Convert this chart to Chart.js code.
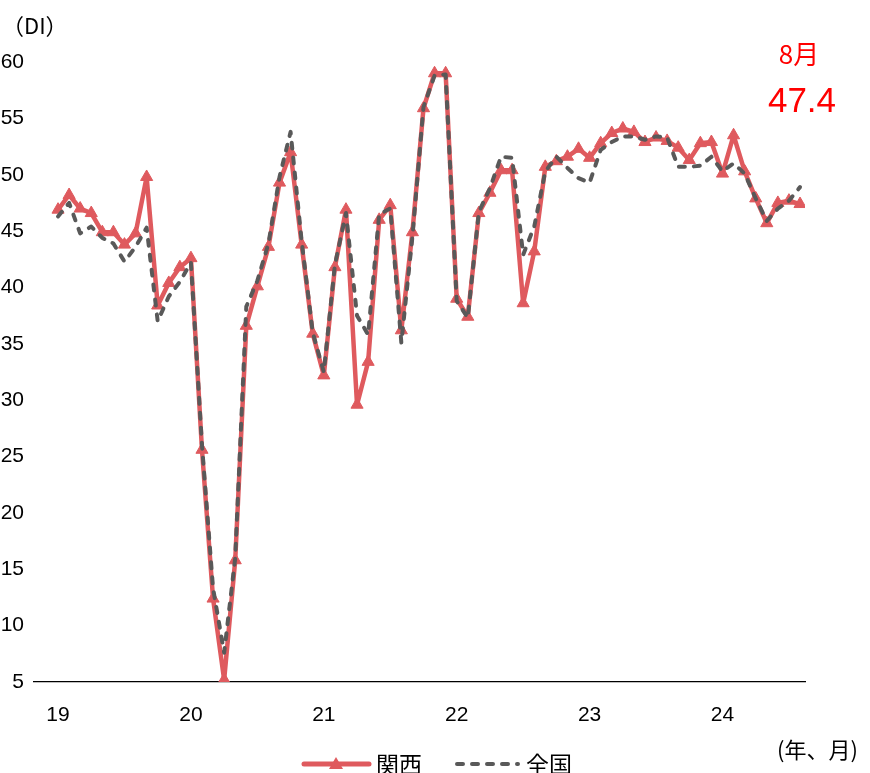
<!DOCTYPE html>
<html>
<head>
<meta charset="utf-8">
<script src="https://cdn.jsdelivr.net/npm/chart.js@4"></script>
<style>
  html, body { margin: 0; padding: 0; background: #fff; }
  #chart { display: block; }
</style>
</head>
<body>
<canvas id="chart" width="870" height="773"></canvas>
<script>
// monthly DI, Jan 2019 .. Aug 2024
const kansai = [
    46.9, 48.2, 47.0, 46.6, 44.9, 44.9, 43.8, 44.8, 49.8, 38.4, 40.4, 41.8,
    42.6, 25.6, 12.4, 5.2, 15.8, 36.6, 40.1, 43.6, 49.3, 52.0, 43.8, 35.9,
    32.2, 41.8, 46.9, 29.6, 33.4, 46.0, 47.3, 36.2, 44.9, 55.9, 59.0, 59.0,
    39.0, 37.4, 46.6, 48.4, 50.4, 50.4, 38.6, 43.2, 50.7, 51.2, 51.6, 52.3,
    51.5, 52.8, 53.7, 54.1, 53.8, 52.9, 53.3, 53.0, 52.4, 51.3, 52.8, 52.9,
    50.1, 53.5, 50.3, 47.9, 45.7, 47.5, 47.7, 47.4
];
const zenkoku = [
    46.3, 47.5, 44.8, 45.4, 44.4, 43.9, 42.3, 43.6, 45.3, 37.0, 39.2, 40.5,
    42.2, 26.0, 13.3, 7.6, 16.0, 38.3, 40.6, 43.9, 49.8, 53.8, 44.1, 36.0,
    32.5, 42.0, 46.6, 37.5, 35.8, 46.5, 47.0, 35.1, 44.5, 56.0, 58.8, 58.9,
    38.8, 37.3, 46.7, 48.8, 51.6, 51.5, 42.9, 45.4, 50.3, 51.6, 50.6, 49.7,
    49.3, 52.2, 52.9, 53.4, 53.4, 53.1, 53.4, 53.3, 50.7, 50.7, 50.8, 51.6,
    50.3, 51.0, 50.1, 47.9, 45.9, 47.0, 47.7, 48.9
];
const yearLabels = ['19', '20', '21', '22', '23', '24'];
const seriesNames = ['関西', '全国'];
const latestMonth = '8月';
const latestValue = '47.4';

const RED = '#df5a5e';
const GRAY = '#595959';
const LATIN = "'Liberation Sans', Arial, 'Noto Sans CJK JP', sans-serif";
const CJK = "'Noto Sans CJK JP', 'Liberation Sans', sans-serif";

function toPoints(arr) {
    return arr.map((v, i) => ({ x: i, y: v }));
}

// extra text + legend drawn on top
const decorations = {
    id: 'decorations',
    afterDraw(chart) {
        const ctx = chart.ctx;
        ctx.save();
        ctx.textBaseline = 'middle';

        ctx.fillStyle = '#000';
        ctx.textAlign = 'left';
        ctx.font = '22px ' + CJK;
        ctx.fillText('（DI）', 2, 26);

        ctx.font = '22px ' + CJK;
        ctx.fillText('(年、月)', 777, 750);

        ctx.fillStyle = '#ff0000';
        ctx.textAlign = 'center';
        ctx.font = '26px ' + CJK;
        ctx.fillText(latestMonth, 799, 54);
        ctx.font = '35px ' + LATIN;
        ctx.fillText(latestValue, 802, 102);

        // legend
        const ly = 764;
        ctx.lineCap = 'round';
        ctx.strokeStyle = RED;
        ctx.lineWidth = 5;
        ctx.beginPath();
        ctx.moveTo(304, ly);
        ctx.lineTo(369, ly);
        ctx.stroke();
        ctx.fillStyle = RED;
        ctx.beginPath();
        ctx.moveTo(336, ly - 7);
        ctx.lineTo(343, ly + 5);
        ctx.lineTo(329, ly + 5);
        ctx.closePath();
        ctx.fill();

        ctx.strokeStyle = GRAY;
        ctx.lineWidth = 4;
        ctx.setLineDash([6, 9]);
        ctx.beginPath();
        ctx.moveTo(457, ly);
        ctx.lineTo(518, ly);
        ctx.stroke();
        ctx.setLineDash([]);

        ctx.fillStyle = '#000';
        ctx.textAlign = 'left';
        ctx.font = '23px ' + CJK;
        ctx.fillText(seriesNames[0], 376, ly);
        ctx.fillText(seriesNames[1], 526, ly);
        ctx.restore();
    }
};

const chart = new Chart(document.getElementById('chart'), {
    type: 'line',
    data: {
        datasets: [{
            label: seriesNames[0],
            data: toPoints(kansai),
            borderColor: RED,
            backgroundColor: RED,
            borderWidth: 4.5,
            borderJoinStyle: 'round',
            borderCapStyle: 'round',
            pointStyle: 'triangle',
            pointRadius: 7,
            pointBorderWidth: 1,
            pointBackgroundColor: RED,
            pointBorderColor: RED,
            tension: 0,
            order: 2
        },
        {
            label: seriesNames[1],
            data: toPoints(zenkoku),
            borderColor: GRAY,
            backgroundColor: GRAY,
            borderWidth: 4,
            borderDash: [6, 9],
            borderCapStyle: 'round',
            borderJoinStyle: 'round',
            pointRadius: 0,
            tension: 0,
            order: 1
        }]
    },
    options: {
        responsive: false,
        devicePixelRatio: 1,
        animation: false,
        layout: {
            padding: { left: 0, right: 65, top: 62, bottom: 31 }
        },
        scales: {
            x: {
                type: 'linear',
                min: -2.17,
                max: 67.45,
                afterBuildTicks: (scale) => {
                    scale.ticks = yearLabels.map((_, i) => ({ value: i * 12 }));
                },
                afterFit: (scale) => { scale.height = 60; },
                grid: { display: false, drawTicks: false },
                border: { display: true, color: '#000', width: 1.2 },
                ticks: {
                    padding: 21,
                    autoSkip: false,
                    maxRotation: 0,
                    color: '#000',
                    font: { size: 21, family: LATIN },
                    callback: (v) => yearLabels[Math.round(v / 12)]
                }
            },
            y: {
                min: 5,
                max: 60,
                afterFit: (scale) => { scale.width = 34; },
                grid: { display: false, drawTicks: false },
                border: { display: false },
                ticks: {
                    stepSize: 5,
                    padding: 10,
                    color: '#000',
                    font: { size: 21, family: LATIN }
                }
            }
        },
        plugins: {
            legend: { display: false },
            tooltip: { enabled: false }
        }
    },
    plugins: [decorations]
});
</script>
</body>
</html>
